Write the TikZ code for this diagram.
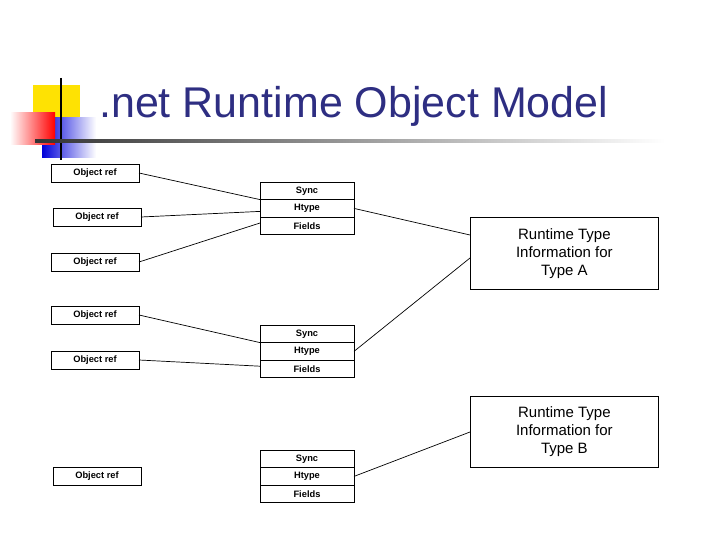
\documentclass[tikz,border=0pt]{standalone}
\usepackage{fontspec}
\setmainfont{Liberation Sans}
\begin{document}
\begin{tikzpicture}[x=1pt,y=-1pt,
 ref/.style={draw,line width=0.8pt,inner sep=0pt,outer sep=0pt,font=\bfseries\fontsize{9.3}{10}\selectfont},
 rt/.style={draw,line width=0.8pt,inner sep=0pt,align=center,font=\fontsize{15}{18}\selectfont},
 con/.style={line width=0.7pt}]
\useasboundingbox (0,0) rectangle (720,540);
\definecolor{tblue}{RGB}{46,46,130}
% logo
\fill[yellow!85!orange] (33,85) rectangle (80,130);
\shade[left color=blue!85!black,right color=white] (42,118) rectangle (96,158);
\shade[left color=white,right color=red] (10,113) rectangle (55,145);
\draw[line width=2pt] (61,78) -- (61,160);
\shade[left color=black!80,right color=white] (35,140) rectangle (665,142.5);
\node[anchor=base west,text=tblue,font=\fontsize{43}{45}\selectfont,inner sep=0pt] (title) at (99,118) {.net Runtime Object Model};
% object refs
\foreach \n/\x/\y in {r1/51/164,r2/53/208,r3/51/253,r4/51/306,r5/51/351,r6/53/467}
  \node[ref,minimum width=88pt,minimum height=18pt,anchor=north west] (\n) at (\x,\y) {Object ref};
% stacks
\foreach \s/\y in {a/182,b/325,c/450}{
  \node[ref,minimum width=94pt,minimum height=17.6pt,anchor=north west] (\s1) at (260,\y) {Sync};
  \node[ref,minimum width=94pt,minimum height=17.6pt,anchor=north] (\s2) at (\s1.south) {Htype};
  \node[ref,minimum width=94pt,minimum height=17.6pt,anchor=north] (\s3) at (\s2.south) {Fields};
}
\node[rt,minimum width=188pt,minimum height=72pt,anchor=north west] (ta) at (470,217) {Runtime Type\\Information for\\Type A};
\node[rt,minimum width=188pt,minimum height=71pt,anchor=north west] (tb) at (470,396) {Runtime Type\\Information for\\Type B};
% connectors
\draw[con] (r1.east) -- (a1.south west);
\draw[con] (r2.east) -- ([yshift=-3pt]a2.west);
\draw[con] (r3.east) -- ([yshift=3pt]a3.west);
\draw[con] (r4.east) -- (b1.south west);
\draw[con] (r5.east) -- ([yshift=-6pt]b2.south west);
\draw[con] (a2.east) -- ([yshift=-18pt]ta.north west);
\draw[con] (b2.east) -- ([yshift=-41pt]ta.north west);
\draw[con] (c2.east) -- ([yshift=-36pt]tb.north west);
\end{tikzpicture}
\end{document}
